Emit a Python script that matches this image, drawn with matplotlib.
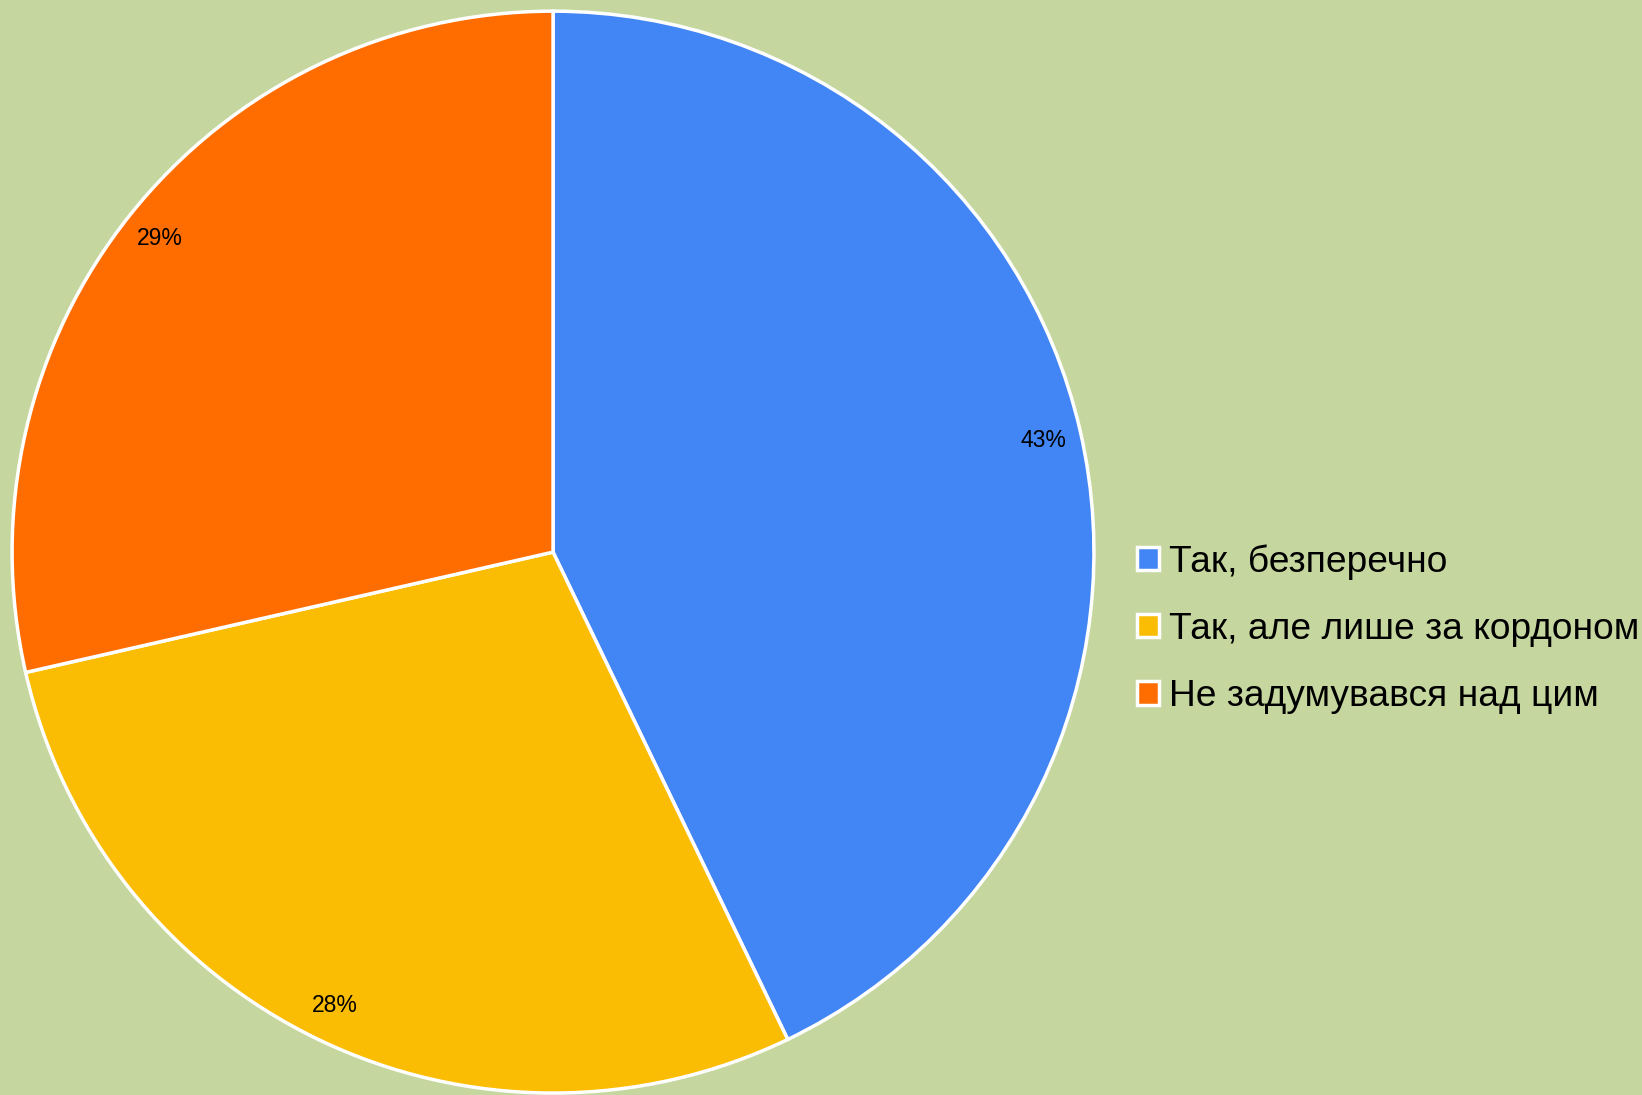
import numpy as np
import matplotlib.pyplot as plt
from matplotlib.patches import Patch

plt.rcParams['font.family'] = ['Liberation Sans', 'DejaVu Sans']

labels = ["Так, безперечно", "Так, але лише за кордоном", "Не задумувався над цим"]
counts = [3, 2, 2]
pct_labels = ["43%", "28%", "29%"]
colors = ["#4285F4", "#FBBC04", "#FF6D01"]
bg = "#C5D79E"

fig = plt.figure(figsize=(16.42, 10.95), dpi=100, facecolor=bg)
ax = fig.add_axes([0.0073, 0.0018, 0.659, 0.988])
ax.set_facecolor(bg)

wedges, texts = ax.pie(
    counts, colors=colors, startangle=90, counterclock=False,
    wedgeprops=dict(edgecolor="white", linewidth=2.5),
)

# percentage labels inside each wedge, near the rim
for w, txt in zip(wedges, pct_labels):
    ang = np.deg2rad((w.theta1 + w.theta2) / 2)
    ax.text(0.93 * np.cos(ang), 0.93 * np.sin(ang), txt, ha="center", va="center",
            fontsize=16.5, color="black")

ax.set_xlim(-1.0, 1.0)
ax.set_ylim(-1.0, 1.0)
ax.set_aspect("equal")

handles = [Patch(facecolor=c, edgecolor="white", linewidth=2.5) for c in colors]
fig.legend(handles, labels, loc="center left", bbox_to_anchor=(0.6925, 0.4256),
           frameon=False, fontsize=26.7, handlelength=0.6, handleheight=0.6,
           handletextpad=0.25, labelspacing=0.87, borderpad=0, borderaxespad=0)

fig.savefig("out.png", dpi=100, facecolor=bg)
